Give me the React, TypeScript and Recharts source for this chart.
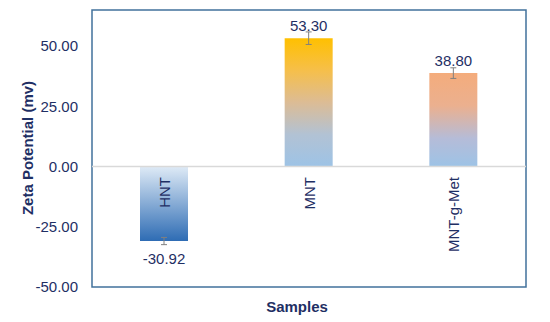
import React from "react";
import {
  BarChart,
  Bar,
  Cell,
  XAxis,
  YAxis,
  ErrorBar,
  LabelList,
  Label,
  ReferenceLine,
  ReferenceArea,
} from "recharts";

const samples = ["HNT", "MNT", "MNT-g-Met"];
const zeta = [-30.92, 53.3, 38.8];
const errors = [1.5, 2.6, 2.2];
const yTicks = [-50, -25, 0, 25, 50];

const GRADIENTS = ["gradHNT", "gradMNT", "gradMet"];
const NAVY = "#1f2f64";
const FONT = "Arial, 'Liberation Sans', sans-serif";

const data = samples.map((name, i) => ({
  name,
  value: zeta[i],
  err: errors[i],
}));

const CategoryTick = (props: any) => {
  const { x, payload } = props;
  const y = 177;
  return (
    <text
      x={x}
      y={y}
      transform={`rotate(-90, ${x}, ${y})`}
      textAnchor="end"
      dominantBaseline="central"
      fill={NAVY}
      fontSize={15}
      fontFamily={FONT}
    >
      {payload.value}
    </text>
  );
};

const ValueLabel = (props: any) => {
  const vb = props.viewBox ?? props;
  const x = vb.x ?? props.x;
  const y = vb.y ?? props.y;
  const w = vb.width ?? props.width;
  const h = vb.height ?? props.height;
  const top = Math.min(y, y + h);
  const bottom = Math.max(y, y + h);
  const neg = Number(props.value) < 0;
  return (
    <text
      x={x + w / 2}
      y={neg ? bottom + 23 : top - 7}
      textAnchor="middle"
      fill={NAVY}
      fontSize={15}
      fontFamily={FONT}
    >
      {Number(props.value).toFixed(2)}
    </text>
  );
};

export default function App() {
  return (
    <div style={{ width: 550, height: 322, background: "#fff" }}>
      <style>{`body{margin:0}`}</style>
      <BarChart
        width={550}
        height={322}
        data={data}
        margin={{ top: 10, right: 24, bottom: 0, left: 0 }}
        style={{ fontFamily: FONT }}
      >
        <defs>
          <linearGradient id="gradHNT" x1="0" y1="0" x2="0" y2="1">
            <stop offset="0%" stopColor="#deeaf6" />
            <stop offset="100%" stopColor="#2e6cb4" />
          </linearGradient>
          <linearGradient id="gradMNT" x1="0" y1="0" x2="0" y2="1">
            <stop offset="0%" stopColor="#ffc000" />
            <stop offset="25%" stopColor="#f6bf4a" />
            <stop offset="50%" stopColor="#dcbc95" />
            <stop offset="75%" stopColor="#b2c2d4" />
            <stop offset="100%" stopColor="#9dc3e6" />
          </linearGradient>
          <linearGradient id="gradMet" x1="0" y1="0" x2="0" y2="1">
            <stop offset="0%" stopColor="#f4ac7c" />
            <stop offset="35%" stopColor="#ebb08f" />
            <stop offset="70%" stopColor="#b5bcd8" />
            <stop offset="100%" stopColor="#9dc3e6" />
          </linearGradient>
        </defs>
        <ReferenceArea
          y1={-50}
          y2={65}
          fill="none"
          stroke="#41719c"
          strokeWidth={1.5}
          ifOverflow="visible"
        />
        <XAxis
          dataKey="name"
          height={35}
          axisLine={false}
          tickLine={false}
          tick={<CategoryTick />}
          interval={0}
        >
          <Label
            content={() => (
              <text
                x={297}
                y={312}
                textAnchor="middle"
                fill={NAVY}
                fontSize={15}
                fontWeight="bold"
                fontFamily={FONT}
              >
                Samples
              </text>
            )}
          />
        </XAxis>
        <YAxis
          width={92}
          domain={[-50, 65]}
          ticks={yTicks}
          axisLine={false}
          tickLine={false}
          tickSize={0}
          tickMargin={14}
          tickFormatter={(v: number) => v.toFixed(2)}
          tick={{ fill: NAVY, fontSize: 15, fontFamily: FONT }}
        >
          <Label
            content={() => (
              <text
                x={27}
                y={148}
                transform="rotate(-90, 27, 148)"
                textAnchor="middle"
                dominantBaseline="central"
                fill={NAVY}
                fontSize={15}
                fontWeight="bold"
                fontFamily={FONT}
              >
                Zeta Potential (mv)
              </text>
            )}
          />
        </YAxis>
        <ReferenceLine y={0} stroke="#d9d9d9" strokeWidth={1.5} />
        <Bar dataKey="value" barSize={48} isAnimationActive={false}>
          {data.map((d, i) => (
            <Cell key={d.name} fill={`url(#${GRADIENTS[i]})`} />
          ))}
          <ErrorBar
            dataKey="err"
            width={3}
            stroke="#808080"
            strokeWidth={1}
            direction="y"
          />
          <LabelList dataKey="value" content={<ValueLabel />} />
        </Bar>
      </BarChart>
    </div>
  );
}
